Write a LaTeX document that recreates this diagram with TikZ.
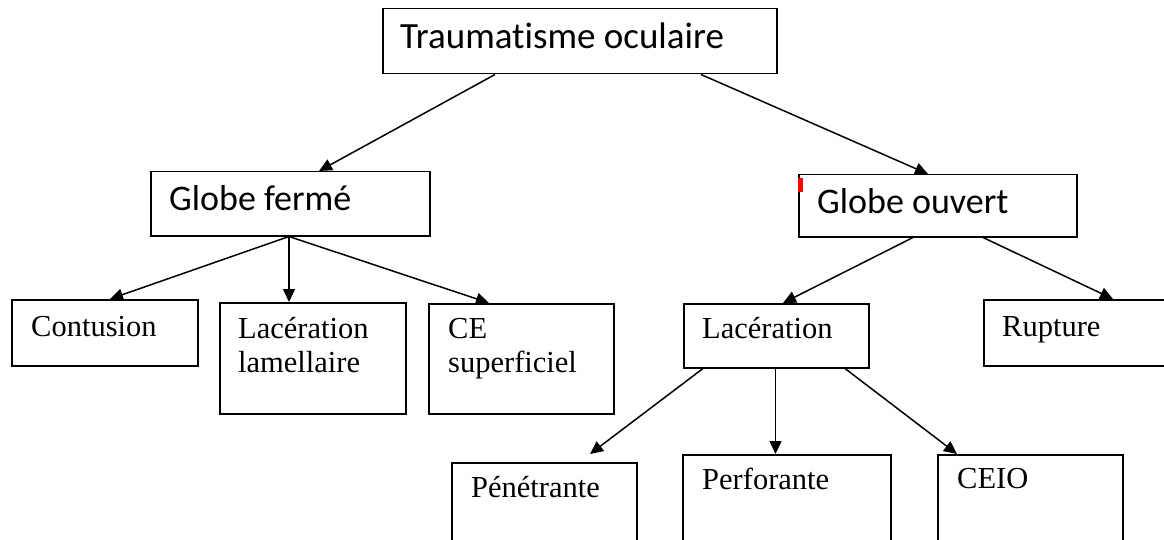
\documentclass[tikz,border=0pt]{standalone}
\usepackage{fontspec}
\setmainfont{Liberation Serif}
\newfontfamily\calib[Ligatures={NoCommon}]{Carlito}
\usetikzlibrary{arrows.meta}
\begin{document}
\begin{tikzpicture}[x=1pt,y=-1pt,
  box/.style={draw, line width=1.5pt, inner sep=0pt, anchor=north west},
  sanslab/.style={anchor=base west, inner sep=0pt, font=\calib\fontsize{37}{44}\selectfont},
  seriflab/.style={anchor=base west, inner sep=0pt, font=\fontsize{30.5}{34}\selectfont},
  conn/.style={line width=1.5pt, -{Triangle[length=13pt,width=12pt]}}]
\clip (0,0) rectangle (1164,540);
\fill[white] (0,0) rectangle (1164,540);
% boxes
\node[box, minimum width=394pt, minimum height=65pt] (top) at (382,8) {};
\node[box, minimum width=279pt, minimum height=64pt] (gf) at (150,171) {};
\node[box, minimum width=278pt, minimum height=62pt] (go) at (798,174) {};
\node[box, minimum width=186pt, minimum height=66pt] (cont) at (11,299) {};
\node[box, minimum width=186pt, minimum height=111pt] (lam) at (219,302) {};
\node[box, minimum width=185pt, minimum height=110pt] (ce) at (428,303) {};
\node[box, minimum width=185pt, minimum height=64pt] (lac) at (683,303) {};
\node[box, minimum width=190pt, minimum height=66pt] (rup) at (983,299) {};
\node[box, minimum width=185pt, minimum height=100pt] (pen) at (451,462) {};
\node[box, minimum width=208pt, minimum height=100pt] (perf) at (682,454) {};
\node[box, minimum width=185pt, minimum height=100pt] (ceio) at (937,454) {};
% red mark
\fill[red] (798,178) rectangle (802.5,192);
% texts
\node[sanslab] (ttop) at (400,49) {Traumatisme oculaire};
\node[sanslab, font=\calib\fontsize{36}{44}\selectfont] (tgf) at (169,211) {Globe fermé};
\node[sanslab, font=\calib\fontsize{36}{44}\selectfont] (tgo) at (817,213) {Globe ouvert};
\node[seriflab] (tcont) at (31,336) {Contusion};
\node[seriflab] (tlam) at (238,338) {\begin{tabular}[t]{@{}l@{}}Lacération\\lamellaire\end{tabular}};
\node[seriflab] (tce) at (448,338) {\begin{tabular}[t]{@{}l@{}}CE\\superficiel\end{tabular}};
\node[seriflab] (tlac) at (702,338) {Lacération};
\node[seriflab] (trup) at (1002,336) {Rupture};
\node[seriflab] (tpen) at (471,497) {Pénétrante};
\node[seriflab] (tperf) at (702,489) {Perforante};
\node[seriflab] (tceio) at (957,488) {CEIO};
% connectors
\draw[conn] ([xshift=113pt]top.south west) -- ([xshift=169pt]gf.north west);
\draw[conn] ([xshift=319pt]top.south west) -- ([xshift=130pt]go.north west);
\draw[conn] ([xshift=139pt]gf.south west) -- ([xshift=99pt]cont.north west);
\draw[conn] ([xshift=139pt]gf.south west) -- ([xshift=70pt]lam.north west);
\draw[conn] ([xshift=139pt]gf.south west) -- ([xshift=61pt]ce.north west);
\draw[conn] ([xshift=115pt]go.south west) -- ([xshift=100pt]lac.north west);
\draw[conn] ([xshift=185pt]go.south west) -- ([xshift=130pt]rup.north west);
\draw[conn] ([xshift=20pt]lac.south west) -- ([xshift=139pt,yshift=8pt]pen.north west);
\draw[conn] ([xshift=92.5pt]lac.south west) -- ([xshift=93.5pt]perf.north west);
\draw[conn] ([xshift=162pt]lac.south west) -- ([xshift=20pt]ceio.north west);
\end{tikzpicture}
\end{document}
